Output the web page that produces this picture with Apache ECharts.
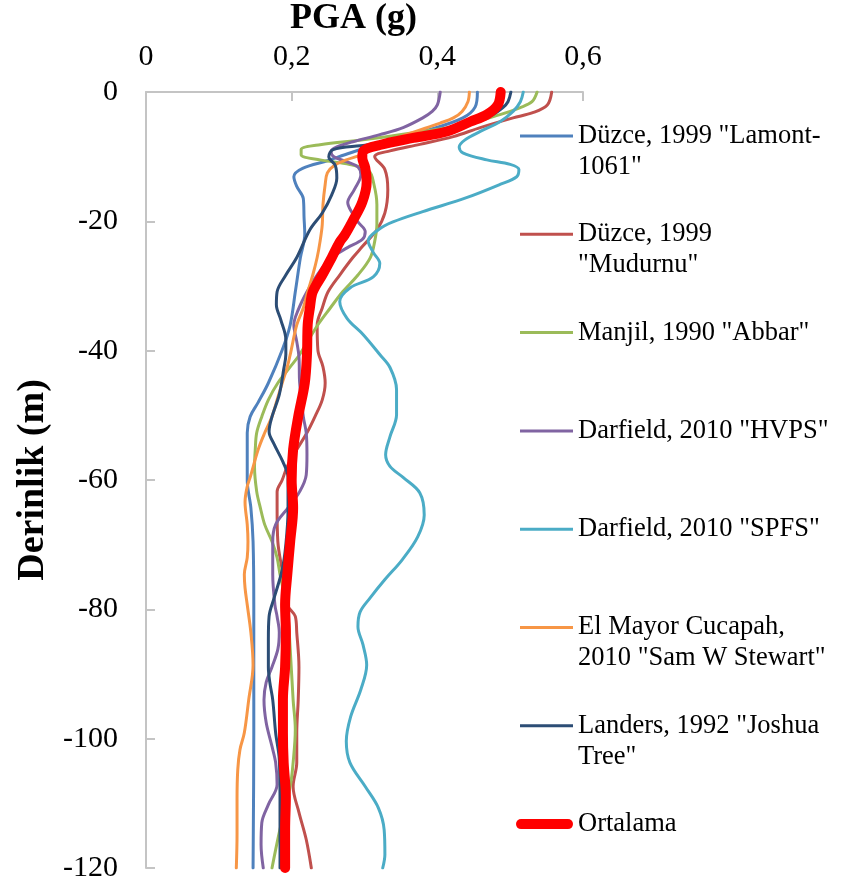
<!DOCTYPE html>
<html><head><meta charset="utf-8">
<script src="https://cdn.jsdelivr.net/npm/echarts@6/dist/echarts.min.js"></script>
<style>html,body{margin:0;padding:0;background:#fff}#c{width:849px;height:885px}</style>
</head><body><div id="c"></div>
<script>
// ---- data: [PGA (g), depth (m)] ----
const seriesNames = [
  'Düzce, 1999 "Lamont-\n1061"',
  'Düzce, 1999\n"Mudurnu"',
  'Manjil, 1990 "Abbar"',
  'Darfield, 2010 "HVPS"',
  'Darfield, 2010 "SPFS"',
  'El Mayor Cucapah,\n2010 "Sam W Stewart"',
  'Landers, 1992 "Joshua\nTree"',
  'Ortalama'
];
const xTicks = [0, 0.2, 0.4, 0.6];
const yTicks = [0, -20, -40, -60, -80, -100, -120];

const duzceLamont = [[0.455,0],[0.452,-2.3],[0.435,-4],[0.39,-5.8],[0.314,-8.2],[0.273,-9.7],[0.25,-10.6],[0.215,-11.8],[0.203,-13.1],[0.207,-14.6],[0.216,-16.5],[0.217,-19.4],[0.218,-22],[0.212,-25.6],[0.205,-30.9],[0.198,-36],[0.187,-39.9],[0.168,-45],[0.154,-48],[0.143,-50.2],[0.139,-52.7],[0.139,-60],[0.144,-64.3],[0.147,-69.5],[0.148,-79.3],[0.148,-99],[0.147,-120]];
const duzceMudurnu = [[0.557,0],[0.551,-2],[0.531,-3.2],[0.504,-4],[0.459,-5.5],[0.422,-6.9],[0.376,-8.1],[0.335,-9.1],[0.314,-10],[0.328,-12],[0.332,-15.1],[0.328,-18.7],[0.317,-21.3],[0.297,-23.9],[0.284,-25.6],[0.266,-28.3],[0.25,-30.9],[0.242,-33.4],[0.235,-36],[0.236,-39.9],[0.243,-42.5],[0.246,-45],[0.242,-47.6],[0.232,-50.2],[0.221,-52.7],[0.207,-55.3],[0.194,-57.9],[0.187,-60],[0.18,-61.8],[0.18,-64.3],[0.181,-69.5],[0.188,-74.6],[0.194,-79.3],[0.205,-81.1],[0.207,-83.6],[0.21,-88.9],[0.209,-94],[0.207,-99.1],[0.207,-103.7],[0.202,-107.4],[0.21,-111.4],[0.22,-115.6],[0.227,-120]];
const manjilAbbar = [[0.537,0],[0.53,-1.5],[0.514,-2.4],[0.486,-3.5],[0.435,-5.1],[0.367,-6.3],[0.298,-7.4],[0.239,-8.15],[0.213,-8.9],[0.213,-9.7],[0.239,-10.5],[0.28,-11.2],[0.306,-12.2],[0.313,-14.3],[0.317,-17.4],[0.317,-20.5],[0.314,-23.1],[0.308,-25.6],[0.291,-28.3],[0.27,-30.9],[0.253,-33.4],[0.236,-36],[0.211,-40.6],[0.198,-42.5],[0.181,-45],[0.168,-47.6],[0.159,-50.2],[0.152,-52.7],[0.15,-55.3],[0.149,-58],[0.152,-61.8],[0.157,-64.3],[0.163,-66.9],[0.173,-69.5],[0.18,-72],[0.184,-74.6],[0.194,-80],[0.198,-86.2],[0.202,-94],[0.205,-98.6],[0.202,-103.7],[0.198,-107.4],[0.184,-114],[0.173,-120]];
const darfieldHVPS = [[0.404,0],[0.4,-2],[0.393,-3],[0.38,-4],[0.353,-5.5],[0.321,-6.6],[0.284,-7.7],[0.262,-8.5],[0.254,-9.2],[0.258,-10],[0.276,-10.8],[0.291,-11.6],[0.295,-12.8],[0.286,-15.1],[0.277,-17.1],[0.283,-18.7],[0.291,-20.1],[0.301,-21.6],[0.297,-22.8],[0.276,-24.1],[0.253,-25.8],[0.235,-28.3],[0.221,-30.9],[0.209,-33.7],[0.203,-36],[0.207,-38.6],[0.21,-40.9],[0.211,-45],[0.216,-50.2],[0.22,-52.7],[0.221,-56],[0.22,-59.2],[0.211,-61.8],[0.195,-64.3],[0.178,-66.9],[0.174,-69.5],[0.174,-74.6],[0.177,-79.3],[0.18,-81.1],[0.183,-83.6],[0.181,-86.2],[0.173,-88.9],[0.165,-91.3],[0.162,-94],[0.165,-97.5],[0.173,-101.2],[0.178,-103.7],[0.18,-107.1],[0.168,-110.2],[0.159,-113],[0.158,-116.4],[0.161,-120]];
const darfieldSPFS = [[0.518,0],[0.514,-1.5],[0.504,-3],[0.486,-4.6],[0.459,-6.1],[0.438,-7.4],[0.43,-8.5],[0.435,-9.4],[0.468,-10.5],[0.5,-11.2],[0.512,-12],[0.509,-13.1],[0.486,-14.3],[0.441,-16.3],[0.38,-18.5],[0.339,-20.1],[0.319,-21.3],[0.305,-23],[0.312,-24.8],[0.321,-26.5],[0.312,-28.6],[0.28,-30.3],[0.266,-32.4],[0.276,-35],[0.298,-37.5],[0.321,-40.6],[0.335,-42.6],[0.344,-46],[0.344,-49.9],[0.335,-53.3],[0.329,-56.1],[0.335,-57.9],[0.353,-59.6],[0.376,-62],[0.382,-65.4],[0.373,-68.8],[0.352,-72.3],[0.328,-75.4],[0.308,-78.2],[0.294,-80.4],[0.291,-82.7],[0.298,-85.5],[0.303,-88.6],[0.295,-92.4],[0.281,-96.6],[0.275,-100.4],[0.28,-103.7],[0.301,-107.4],[0.319,-110.7],[0.327,-114.1],[0.328,-117.9],[0.325,-120]];
const elMayorCucapah = [[0.444,0],[0.442,-1.5],[0.434,-3],[0.422,-4],[0.404,-4.8],[0.36,-6.5],[0.32,-8.2],[0.298,-9.6],[0.275,-10.5],[0.258,-11.4],[0.249,-12.5],[0.246,-14.3],[0.243,-17.4],[0.242,-20.5],[0.239,-23.1],[0.235,-25.6],[0.229,-28.3],[0.222,-30.9],[0.216,-33.4],[0.207,-36],[0.199,-40.1],[0.194,-42.5],[0.187,-45],[0.18,-47.6],[0.173,-50.2],[0.163,-52.7],[0.154,-55.3],[0.143,-59.6],[0.139,-61],[0.136,-63.4],[0.139,-66.9],[0.14,-69.5],[0.139,-72],[0.135,-74.6],[0.136,-76.7],[0.139,-79.3],[0.144,-83.6],[0.147,-88.6],[0.141,-94],[0.135,-99.1],[0.129,-101.7],[0.126,-104.8],[0.125,-109.4],[0.125,-114.8],[0.124,-120]];
const landersJoshua = [[0.501,0],[0.497,-1.5],[0.49,-2.4],[0.476,-3.5],[0.454,-4.6],[0.417,-5.8],[0.376,-6.8],[0.345,-7.7],[0.294,-8.3],[0.257,-8.9],[0.251,-10],[0.26,-11.4],[0.262,-13.3],[0.255,-15.9],[0.242,-18.7],[0.225,-21.3],[0.207,-25.6],[0.192,-28.3],[0.18,-30.9],[0.179,-32.9],[0.185,-35.2],[0.192,-38.3],[0.192,-40.6],[0.189,-42.9],[0.183,-46.8],[0.173,-50.2],[0.169,-52.5],[0.176,-54.5],[0.188,-57.2],[0.195,-59.6],[0.195,-64.6],[0.192,-70],[0.187,-73.9],[0.176,-78.2],[0.169,-81.1],[0.168,-84.7],[0.168,-88.9],[0.17,-91.3],[0.174,-94],[0.178,-99.1],[0.183,-103.2],[0.184,-109.4],[0.184,-120]];
const ortalama = [[0.487,0],[0.483,-2],[0.468,-3.5],[0.445,-4.6],[0.413,-6.1],[0.367,-7.1],[0.321,-8.2],[0.298,-9.2],[0.297,-10.2],[0.301,-11.7],[0.303,-13.9],[0.297,-17],[0.283,-20.1],[0.273,-22.1],[0.266,-23.2],[0.255,-25.6],[0.242,-28.3],[0.229,-30.9],[0.225,-33.4],[0.222,-36],[0.221,-40.6],[0.218,-45],[0.209,-50.2],[0.202,-55.3],[0.2,-60],[0.202,-64.3],[0.198,-69.5],[0.194,-74.6],[0.191,-79.3],[0.192,-83.6],[0.191,-88.9],[0.188,-94],[0.188,-99.1],[0.189,-103.7],[0.192,-109],[0.191,-114],[0.191,-120]];

const seriesData = [duzceLamont, duzceMudurnu, manjilAbbar, darfieldHVPS, darfieldSPFS, elMayorCucapah, landersJoshua, ortalama];
const seriesColors = ['#4F81BD','#C0504D','#9BBB59','#8064A2','#4BACC6','#F79646','#2C4D75','#FF0000'];

// ---- chart ----
const FONT = '"Liberation Serif", "Times New Roman", serif';
const chart = echarts.init(document.getElementById('c'), null, {renderer: 'canvas'});

const legendFirstLine = 136, legendStep = 98.3, lineH = 31;
const legends = seriesNames.map((n, i) => {
  const lines = n.split('\n').length;
  const center = legendFirstLine + legendStep * i;
  const isMean = i === seriesNames.length - 1;
  // two-line labels get a blank leading line so the icon sits on the first text line
  const shown = lines > 1 ? '\n' + n : n;
  const totalLines = lines > 1 ? lines + 1 : 1;
  return {
    data: [n],
    orient: 'vertical',
    left: isMean ? 516 : 520,
    top: center - totalLines * lineH / 2,
    padding: 0,
    itemWidth: isMean ? 57 : 53,
    itemHeight: isMean ? 10 : 3,
    icon: isMean ? 'path://M5,0 L52,0 A5,5 0 0 1 52,10 L5,10 A5,5 0 0 1 5,0 Z' : 'rect',
    selectedMode: false,
    formatter: () => shown,
    textStyle: {fontFamily: FONT, fontSize: 26.5, color: '#000', lineHeight: lineH}
  };
});

const option = {
  animation: false,
  backgroundColor: '#fff',
  grid: {left: 146, top: 92, width: 437, height: 776, containLabel: false, outerBoundsMode: 'none'},
  xAxis: {
    type: 'value', position: 'top', min: 0, max: 0.6, interval: 0.2,
    name: 'PGA (g)', nameLocation: 'middle', nameGap: 38,
    nameTextStyle: {fontFamily: FONT, fontSize: 36, fontWeight: 'bold', color: '#000', padding: [0, 22, 0, 0]},
    axisLine: {show: true, lineStyle: {color: '#C4C4C4', width: 2}},
    axisTick: {show: true, inside: true, length: 9, lineStyle: {color: '#C4C4C4', width: 2}},
    axisLabel: {fontFamily: FONT, fontSize: 30, color: '#000', margin: 20,
      formatter: v => (Math.round(v * 10) / 10).toString().replace('.', ',')},
    splitLine: {show: false}
  },
  yAxis: {
    type: 'value', min: -120, max: 0, interval: 20,
    name: 'Derinlik (m)', nameLocation: 'middle', nameGap: 92, nameRotate: 90,
    nameTextStyle: {fontFamily: FONT, fontSize: 38, fontWeight: 'bold', color: '#000'},
    axisLine: {show: true, lineStyle: {color: '#C4C4C4', width: 2}},
    axisTick: {show: true, inside: true, length: 9, lineStyle: {color: '#C4C4C4', width: 2}},
    axisLabel: {fontFamily: FONT, fontSize: 30, color: '#000', margin: 28},
    splitLine: {show: false}
  },
  legend: legends,
  series: seriesNames.map((n, i) => ({
    name: n, type: 'line', data: seriesData[i], smooth: 0.35,
    showSymbol: false, symbol: 'none', color: seriesColors[i],
    lineStyle: {color: seriesColors[i], width: i === 7 ? 10 : 3, cap: 'round', join: 'round'},
    emphasis: {disabled: true}
  }))
};
chart.setOption(option);
</script>
</body></html>
